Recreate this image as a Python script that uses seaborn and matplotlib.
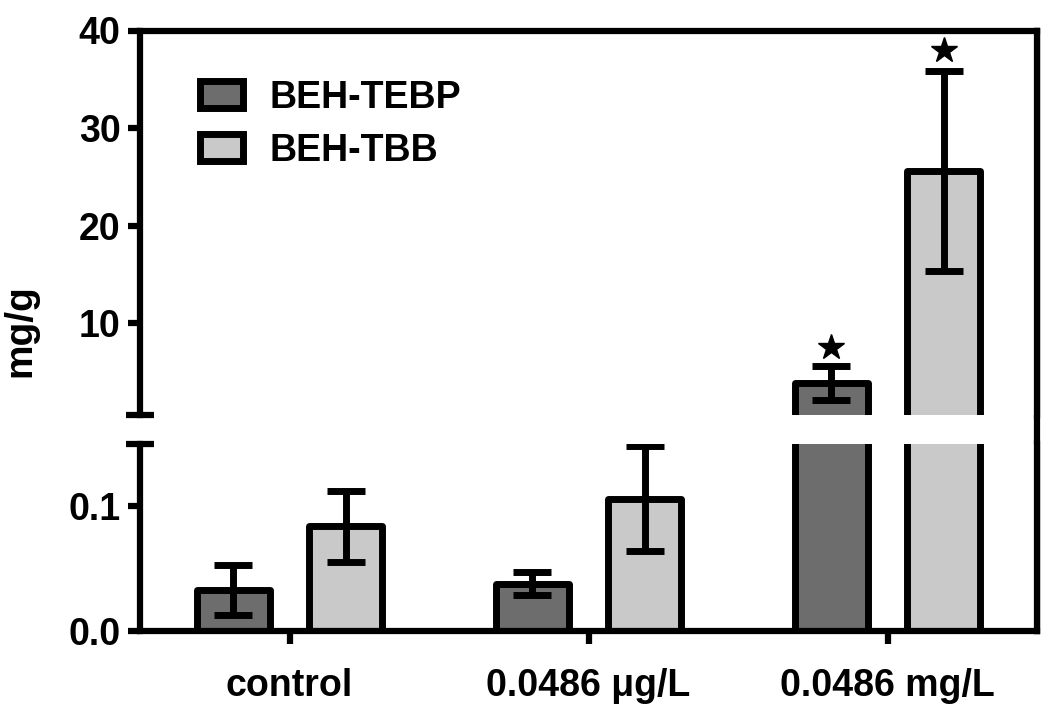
import numpy as np
import pandas as pd
import matplotlib
matplotlib.use("Agg")
import matplotlib.pyplot as plt
from matplotlib.patches import Patch
import seaborn as sns

# ---- data ----
categories = ["control", "0.0486 μg/L", "0.0486 mg/L"]
compounds = ["BEH-TEBP", "BEH-TBB"]
tebp_mean = [0.033, 0.038, 3.85]
tebp_err = [0.020, 0.0095, 1.72]
tbb_mean = [0.084, 0.106, 25.6]
tbb_err = [0.0285, 0.042, 10.2]
star_tebp = [None, None, 7.6]
star_tbb = [None, None, 38.0]
top_ticks = [10, 20, 30, 40]
bottom_ticks = [0.0, 0.1]
top_range = (0.6, 40)
bottom_range = (0.0, 0.15)
colors = ["#6d6d6d", "#c9c9c9"]

sns.set_style("ticks")
plt.rcParams["font.family"] = ["Liberation Sans", "DejaVu Sans"]
plt.rcParams["font.weight"] = "bold"
for k in ["text.color", "axes.labelcolor", "xtick.color", "ytick.color", "axes.edgecolor"]:
    plt.rcParams[k] = "black"

FS = 27

df = pd.DataFrame({
    "dose": categories * 2,
    "compound": [c for c in compounds for _ in categories],
    "value": tebp_mean + tbb_mean,
})
means = [tebp_mean, tbb_mean]
errs = [tebp_err, tbb_err]
stars = [star_tebp, star_tbb]

W, H = 1050, 716
fig = plt.figure(figsize=(W / 100, H / 100), dpi=100)
L, R = 140 / W, 1037 / W
y_top_hi, y_top_lo = 30.5, 415
y_bot_hi, y_bot_lo = 444, 631
ax_bg = fig.add_axes([L, 1 - y_bot_lo / H, R - L, (y_bot_lo - y_top_hi) / H], zorder=-1)
ax_top = fig.add_axes([L, 1 - y_top_lo / H, R - L, (y_top_lo - y_top_hi) / H])
ax_bot = fig.add_axes([L, 1 - y_bot_lo / H, R - L, (y_bot_lo - y_bot_hi) / H])

# background axes: only the continuous right frame line
ax_bg.patch.set_visible(False)
for s in ["left", "top", "bottom"]:
    ax_bg.spines[s].set_visible(False)
ax_bg.spines["right"].set_linewidth(4.5)
ax_bg.set_xticks([])
ax_bg.set_yticks([])

LW = 5
for ax, show_stars in [(ax_top, True), (ax_bot, False)]:
    sns.barplot(data=df, x="dose", y="value", hue="compound", order=categories,
                hue_order=compounds, palette=colors, width=0.75, gap=0.35,
                edgecolor="black", linewidth=LW, errorbar=None, legend=False,
                saturation=1, ax=ax)
    for p in ax.patches:
        p.set_joinstyle("round")
    bar_containers = list(ax.containers)[:len(compounds)]
    for ci, cont in enumerate(bar_containers):
        for bar, m, e, st in zip(cont, means[ci], errs[ci], stars[ci]):
            x = bar.get_x() + bar.get_width() / 2
            ax.errorbar(x, m, yerr=e, fmt="none", ecolor="black", elinewidth=LW,
                        capsize=13.5, capthick=LW, zorder=5)
            if show_stars and st is not None:
                ax.plot([x], [st], marker="*", ms=19, color="black", ls="none",
                        zorder=6, clip_on=False)
    ax.set_xlim(-0.5, len(categories) - 0.5)
    ax.set_xlabel("")
    ax.set_ylabel("")
    for s in ax.spines.values():
        s.set_linewidth(4.5)
    ax.tick_params(axis="y", which="major", labelsize=FS, length=9, width=4.5, pad=5)

ax_top.set_ylim(*top_range)
ax_top.set_yticks(top_ticks)
ax_top.set_yticklabels([str(t) for t in top_ticks])
ax_top.set_yticks([top_range[0]], minor=True)
ax_top.spines["bottom"].set_visible(False)
ax_top.tick_params(axis="x", bottom=False, labelbottom=False)

ax_bot.set_ylim(*bottom_range)
ax_bot.set_yticks(bottom_ticks)
ax_bot.set_yticklabels([f"{t:.1f}" for t in bottom_ticks])
ax_bot.set_yticks([bottom_range[1]], minor=True)
ax_bot.spines["top"].set_visible(False)
ax_bot.set_xticks(range(len(categories)))
ax_bot.set_xticklabels(categories)
ax_bot.tick_params(axis="x", labelsize=FS, length=9, width=4.5, pad=18)

for ax in (ax_top, ax_bot):
    ax.tick_params(axis="y", which="minor", direction="inout", length=20, width=4.5,
                   labelleft=False)

handles = [Patch(facecolor=c, edgecolor="black", linewidth=LW, joinstyle="round")
           for c in colors]
ax_top.legend(handles, compounds, loc="upper left", bbox_to_anchor=(0.067, 0.872),
              frameon=False, fontsize=FS, handlelength=1.15, handleheight=0.72,
              handletextpad=0.7, labelspacing=0.45, borderpad=0, borderaxespad=0)

fig.text(20 / W, 1 - 331 / H, "mg/g", rotation=90, ha="center", va="center",
         fontsize=28, fontweight="bold")

fig.savefig("out.png", dpi=100)
